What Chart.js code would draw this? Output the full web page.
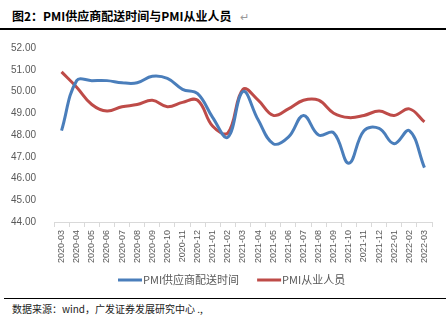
<!DOCTYPE html>
<html><head><meta charset="utf-8">
<script src="https://cdn.jsdelivr.net/npm/chart.js@4"></script>
<style>
html,body{margin:0;padding:0;background:#fff;width:446px;height:321px;overflow:hidden;position:relative;font-family:"Noto Sans CJK SC",sans-serif}
#title{position:absolute;left:12px;top:7px;font-size:12px;font-weight:bold;color:#000;white-space:nowrap}
#title span{font-weight:normal;color:#999;font-size:11px;margin-left:9px}
#rule1{position:absolute;left:0;top:28px;width:446px;height:1.5px;background:#000}
#rule2{position:absolute;left:4px;top:298px;width:442px;height:1px;background:#000}
#src{position:absolute;left:12px;top:301px;font-size:10px;color:#222;white-space:nowrap}
#wrap{position:absolute;left:0;top:30px;width:446px;height:266px}
</style></head><body>
<div id="title">图2：PMI供应商配送时间与PMI从业人员<span>↵</span></div>
<div id="rule1"></div>
<div id="wrap"><canvas id="c" width="446" height="266"></canvas></div>
<div id="rule2"></div>
<div id="src">数据来源：wind，广发证券发展研究中心 .,</div>
<script>
const categories = ["2020-03","2020-04","2020-05","2020-06","2020-07","2020-08","2020-09","2020-10","2020-11","2020-12","2021-01","2021-02","2021-03","2021-04","2021-05","2021-06","2021-07","2021-08","2021-09","2021-10","2021-11","2021-12","2022-01","2022-02","2022-03"];
const deliveryTime = [48.2,50.5,50.5,50.5,50.4,50.4,50.7,50.6,50.1,49.9,48.8,47.9,50.0,48.7,47.6,47.9,48.9,48.0,48.1,46.7,48.2,48.3,47.6,48.2,46.5];
const employment = [50.9,50.2,49.4,49.1,49.3,49.4,49.6,49.3,49.5,49.6,48.4,48.1,50.1,49.6,48.9,49.2,49.6,49.6,49.0,48.8,48.9,49.1,48.9,49.2,48.6];
const seriesNames = ["PMI供应商配送时间","PMI从业人员"];
const yTicks = {min:44, max:52, step:1};

// legend drawn by a small inline plugin (Excel-style: short line + text)
const bottomLegend = {
  id:'bottomLegend',
  afterDraw(chart){
    const ctx = chart.ctx;
    const y = 250, lineLen = 24, gapText = 1, gapItem = 18;
    let x = 118;
    ctx.save();
    ctx.font = '11px "Noto Sans CJK SC"';
    ctx.textBaseline = 'middle';
    chart.data.datasets.forEach(ds => {
      ctx.strokeStyle = ds.borderColor; ctx.lineWidth = 3;
      ctx.beginPath(); ctx.moveTo(x, y); ctx.lineTo(x + lineLen, y); ctx.stroke();
      x += lineLen + gapText;
      ctx.fillStyle = '#595959';
      ctx.fillText(ds.label, x, y);
      x += ctx.measureText(ds.label).width + gapItem;
    });
    ctx.restore();
  }
};

new Chart(document.getElementById('c'), {
  type:'line',
  data:{labels:categories, datasets:[
    {label:seriesNames[0], data:deliveryTime, borderColor:'#4A7EBB', backgroundColor:'#4A7EBB', borderWidth:3, pointRadius:0, tension:0.4},
    {label:seriesNames[1], data:employment, borderColor:'#BE4B48', backgroundColor:'#BE4B48', borderWidth:3, pointRadius:0, tension:0.4}
  ]},
  plugins:[bottomLegend],
  options:{
    responsive:false, animation:false, devicePixelRatio:1,
    layout:{padding:{top:18,right:14,left:0,bottom:30}},
    plugins:{ tooltip:{enabled:false}, legend:{display:false} },
    scales:{
      y:{min:yTicks.min, max:yTicks.max,
         ticks:{stepSize:yTicks.step, color:'#595959', padding:10, font:{family:'Liberation Sans, Arial', size:10}, callback:v=>v.toFixed(2)},
         grid:{display:false}, border:{display:false},
         afterFit:s=>{s.width=54;}},
      x:{offset:true,
         ticks:{minRotation:90, maxRotation:90, autoSkip:false, color:'#595959', padding:3, font:{family:'Liberation Sans, Arial', size:9}},
         grid:{display:true, drawOnChartArea:false, drawTicks:true, tickLength:5, color:'#D9D9D9', offset:true},
         border:{display:true, color:'#D9D9D9'},
         afterFit:s=>{s.height=44;}}
    }
  }
});
</script>
</body></html>
